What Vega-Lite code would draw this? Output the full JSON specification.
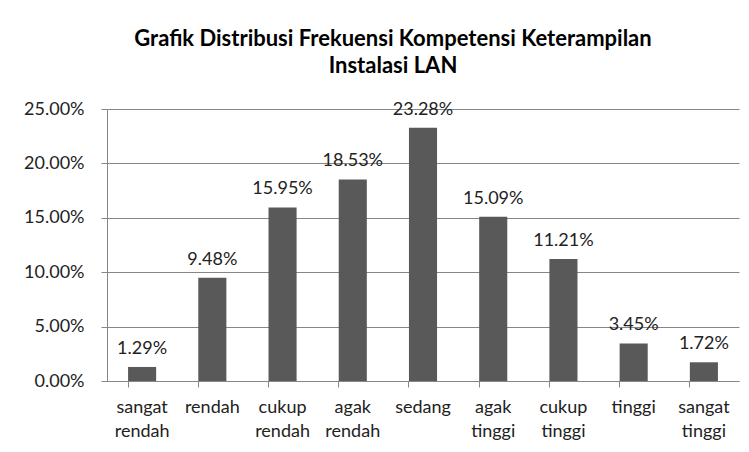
{
  "$schema": "https://vega.github.io/schema/vega-lite/v6.json",
  "autosize": {"type": "none"},
  "width": 632,
  "height": 272,
  "padding": {"left": 107, "top": 109, "right": 10, "bottom": 71},
  "background": "white",
  "title": {
    "text": ["Grafik Distribusi Frekuensi Kompetensi Keterampilan", "Instalasi LAN"],
    "font": "Lato",
    "fontSize": 22,
    "fontWeight": "bold",
    "color": "#000000",
    "anchor": "middle",
    "frame": "group",
    "dx": -30,
    "offset": 22,
    "lineHeight": 27
  },
  "data": {
    "values": [
      {"kategori": "sangat rendah", "persen": 0.0129},
      {"kategori": "rendah", "persen": 0.0948},
      {"kategori": "cukup rendah", "persen": 0.1595},
      {"kategori": "agak rendah", "persen": 0.1853},
      {"kategori": "sedang", "persen": 0.2328},
      {"kategori": "agak tinggi", "persen": 0.1509},
      {"kategori": "cukup tinggi", "persen": 0.1121},
      {"kategori": "tinggi", "persen": 0.0345},
      {"kategori": "sangat tinggi", "persen": 0.0172}
    ]
  },
  "encoding": {
    "x": {
      "field": "kategori",
      "type": "nominal",
      "sort": null,
      "scale": {"paddingInner": 0.6, "paddingOuter": 0.3},
      "axis": {
        "title": null,
        "labelAngle": 0,
        "labelExpr": "split(datum.label, ' ')",
        "labelLineHeight": 24,
        "labelPadding": 11,
        "tickSize": 6,
        "bandPosition": 0,
        "grid": false
      }
    },
    "y": {
      "field": "persen",
      "type": "quantitative",
      "scale": {"domain": [0, 0.25], "nice": false},
      "axis": {
        "title": null,
        "values": [0, 0.05, 0.1, 0.15, 0.2, 0.25],
        "format": ".2%",
        "tickSize": 6,
        "labelPadding": 17,
        "grid": true
      }
    }
  },
  "layer": [
    {"mark": {"type": "bar", "color": "#595959"}},
    {
      "mark": {"type": "text", "baseline": "alphabetic", "dy": -13, "font": "Lato", "fontSize": 18, "color": "#222222"},
      "encoding": {"text": {"field": "persen", "type": "quantitative", "format": ".2%"}}
    }
  ],
  "config": {
    "view": {"stroke": null},
    "axis": {
      "domainColor": "#868686",
      "tickColor": "#868686",
      "gridColor": "#868686",
      "gridOpacity": 1,
      "labelFont": "Lato",
      "labelFontSize": 18,
      "labelColor": "#222222"
    }
  }
}
